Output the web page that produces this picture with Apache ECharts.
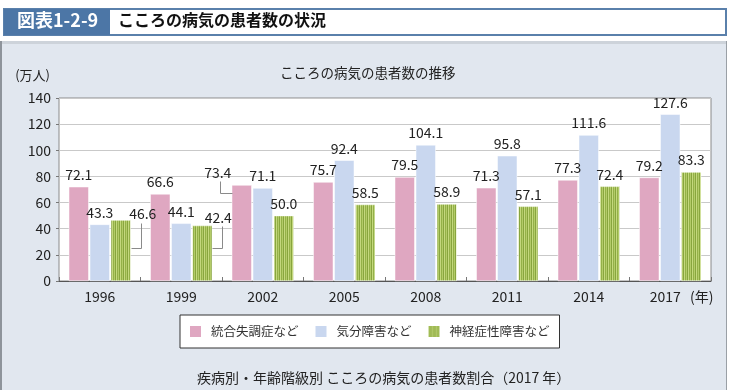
<!DOCTYPE html>
<html><head><meta charset="utf-8">
<script src="https://cdn.jsdelivr.net/npm/echarts@6/dist/echarts.min.js"></script>
<style>html,body{margin:0;padding:0;background:#fff}#c{width:735px;height:390px}</style>
</head><body><div id="c"></div>
<script>
const categories = ['1996','1999','2002','2005','2008','2011','2014','2017'];
const seriesNames = ['統合失調症など','気分障害など','神経症性障害など'];
const schizophrenia = [72.1, 66.6, 73.4, 75.7, 79.5, 71.3, 77.3, 79.2];
const mood = [43.3, 44.1, 71.1, 92.4, 104.1, 95.8, 111.6, 127.6];
const neurotic = [46.6, 42.4, 50.0, 58.5, 58.9, 57.1, 72.4, 83.3];
const yTicks = {min: 0, max: 140, interval: 20};

const FONT = '"Noto Sans CJK JP", "Noto Sans", sans-serif';
// striped green pattern
const pc = document.createElement('canvas');
pc.width = 4; pc.height = 8;
const g = pc.getContext('2d');
const cols = ['#c4d87e', '#94b148', '#b3cb68', '#88a53e'];
cols.forEach((c, i) => { g.fillStyle = c; g.fillRect(i, 0, 1, 8); });
const stripe = {image: pc, repeat: 'repeat'};

const chart = echarts.init(document.getElementById('c'), null, {renderer: 'canvas'});
const labelBase = {show: true, position: 'top', distance: 5, fontSize: 14, color: '#222', fontFamily: FONT,
  formatter: p => Number(p.value).toFixed(1)};

// labels moved off their default place (series, index) -> shift
const moved = {'2_0': [22, 6], '2_1': [16, 4], '0_2': [-24, 0]};

const decor = [
  {id: 'panel', type: 'rect', shape: {x: 0, y: 41, width: 727, height: 349}, style: {fill: '#e1e7ef'}, z: -10},
  {id: 'band', type: 'rect', shape: {x: 0, y: 41, width: 727, height: 3}, style: {fill: '#cdd3da'}, z: -9},
  {id: 'lb', type: 'rect', shape: {x: 0, y: 41, width: 2, height: 349}, style: {fill: '#8e949b'}, z: -9},
  {id: 'rb', type: 'rect', shape: {x: 726, y: 41, width: 1, height: 349}, style: {fill: '#9aa0a6'}, z: -9},
  {id: 'hbox', type: 'rect', shape: {x: 4, y: 9, width: 722, height: 26}, style: {fill: '#fff', stroke: '#5a80ab', lineWidth: 2}, z: -9},
  {id: 'hdark', type: 'rect', shape: {x: 4, y: 9, width: 106, height: 26}, style: {fill: '#4c76a6'}, z: -8},
  {id: 'hnum', type: 'text', x: 17, y: 11, style: {text: '図表1-2-9', fill: '#fff', font: 'bold 18px ' + FONT}, z: -7},
  {id: 'htitle', type: 'text', x: 118, y: 12, style: {text: 'こころの病気の患者数の状況', fill: '#111', font: 'bold 16px ' + FONT}, z: -7},
  {id: 'foot', type: 'text', x: 197, y: 371, style: {text: '疾病別・年齢階級別 こころの病気の患者数割合（2017 年）', fill: '#222', font: '14px ' + FONT}, z: -7}
];

const option = {
  backgroundColor: '#fff',
  animation: false,
  textStyle: {fontFamily: FONT},
  title: {
    text: 'こころの病気の患者数の推移', left: 280, top: 66, padding: 0,
    textStyle: {fontSize: 13.5, fontWeight: 'normal', color: '#222', fontFamily: FONT}
  },
  graphic: decor,
  grid: {left: 59, right: 24, top: 98, bottom: 109, show: true, backgroundColor: '#fff', borderColor: '#8a8a8a', borderWidth: 1},
  legend: {
    data: seriesNames, left: 180, top: 315, orient: 'horizontal',
    backgroundColor: '#fff', borderColor: '#333', borderWidth: 1,
    padding: [9, 10, 9, 8], itemWidth: 13, itemHeight: 13, itemGap: 15,
    icon: 'rect',
    textStyle: {fontSize: 12.5, color: '#333', fontFamily: FONT, padding: [0, 0, 0, 4]}
  },
  xAxis: {
    type: 'category', data: categories,
    name: '(年)', nameLocation: 'end', nameGap: -21,
    nameTextStyle: {fontSize: 14, color: '#222', verticalAlign: 'top', align: 'left', padding: [9, 0, 0, 0], fontFamily: FONT},
    axisLine: {show: true, lineStyle: {color: '#555'}},
    axisTick: {show: true, inside: true, length: 4, lineStyle: {color: '#777'}},
    axisLabel: {
      fontSize: 14, color: '#222', margin: 9, fontFamily: FONT,
      formatter: v => v === categories[categories.length - 1] ? '{a|' + v + '}' : v,
      rich: {a: {fontSize: 14, color: '#222', padding: [0, 10, 0, 0], fontFamily: FONT}}
    },
    splitLine: {show: false}
  },
  yAxis: {
    type: 'value', min: yTicks.min, max: yTicks.max, interval: yTicks.interval,
    name: '(万人)', nameLocation: 'end', nameGap: 16,
    nameTextStyle: {fontSize: 13, color: '#222', align: 'right', padding: [0, 9, 0, 0], fontFamily: FONT},
    axisLine: {show: false},
    axisTick: {show: true, length: 3, lineStyle: {color: '#777'}},
    axisLabel: {fontSize: 14, color: '#222', margin: 8, fontFamily: FONT},
    splitLine: {show: true, lineStyle: {color: '#c9c9c9'}}
  },
  series: [
    {name: seriesNames[0], type: 'bar', data: schizophrenia, barWidth: 20, barGap: '5%',
     itemStyle: {color: '#dfa7c1', borderColor: '#fff', borderWidth: 0.5}, label: labelBase},
    {name: seriesNames[1], type: 'bar', data: mood, barWidth: 20, barGap: '5%',
     itemStyle: {color: '#c9d7ef', borderColor: '#fff', borderWidth: 0.5}, label: labelBase},
    {name: seriesNames[2], type: 'bar', data: neurotic, barWidth: 20, barGap: '5%',
     itemStyle: {color: stripe, borderColor: '#fff', borderWidth: 0.5}, label: labelBase}
  ],
  labelLayout: function (p) {
    const m = moved[p.seriesIndex + '_' + p.dataIndex];
    if (m) return {dx: m[0], dy: m[1]};
    return {};
  }
};
chart.setOption(option);

// leader lines for the moved labels, positioned through the chart's scales
const px = c => chart.convertToPixel({xAxisIndex: 0}, c);
const py = v => chart.convertToPixel({yAxisIndex: 0}, v);
const cw = px(categories[1]) - px(categories[0]);
const lines = [];
{
  const c0 = px(categories[0]), b = c0 + cw / 2;
  lines.push([[b, py(neurotic[0]) + 3], [b, py(25)], [c0 + 31, py(25)]]);
  const c1 = px(categories[1]), b1 = c1 + cw / 2;
  lines.push([[b1, py(neurotic[1])], [b1, py(25)], [c1 + 31, py(25)]]);
  const c2 = px(categories[2]), b2 = c2 - cw / 2 - 2;
  lines.push([[b2, py(schizophrenia[2]) - 4], [b2, py(67)], [c2 - 31, py(67)]]);
}
chart.setOption({graphic: decor.concat(lines.map((pts, i) => ({
  id: 'leader' + i, type: 'polyline',
  shape: {points: pts.map(p => [Math.round(p[0]) + 0.5, Math.round(p[1]) + 0.5])},
  style: {stroke: '#8a8a8a', lineWidth: 1, fill: null}, z: 5
})))});
</script></body></html>
